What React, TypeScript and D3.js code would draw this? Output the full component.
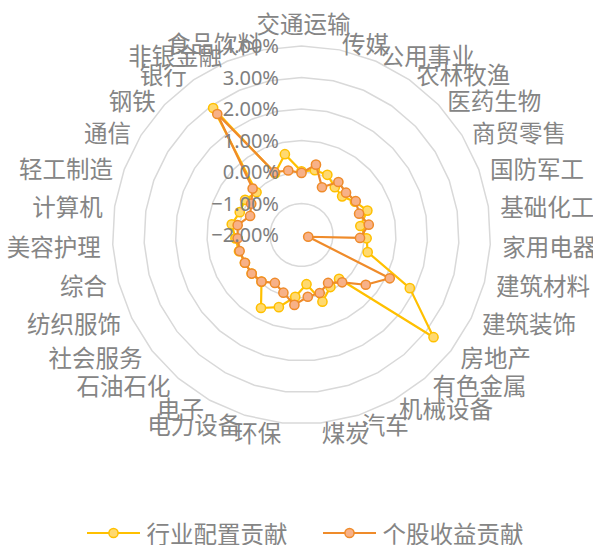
import React from 'react';
import * as d3 from 'd3';

const categories = ['交通运输','传媒','公用事业','农林牧渔','医药生物','商贸零售','国防军工','基础化工','家用电器','建筑材料','建筑装饰','房地产','有色金属','机械设备','汽车','煤炭','环保','电力设备','电子','石油石化','社会服务','纺织服饰','综合','美容护理','计算机','轻工制造','通信','钢铁','银行','非银金融','食品饮料'];
// values in percent
const industryAllocation = [0.02,0.10,0.08,-0.15,-0.22,0.0,0.23,-0.11,0.07,0.17,1.83,3.30,-0.17,-0.11,0.22,-0.43,-0.03,0.40,0.65,-0.05,0.0,0.0,0.05,0.10,0.24,0.09,0.11,-0.03,2.91,0.13,0.62];
const stockSelection = [-0.03,0.28,-0.35,0.05,-0.05,0.03,-0.05,0.16,-0.14,-1.78,1.12,0.58,-0.02,-0.26,-0.07,-0.03,0.23,-0.08,-0.26,-0.05,0.0,0.0,0.03,0.03,0.05,-0.26,-0.12,0.14,2.68,0.17,0.09];
const tickValues = [-2,-1,0,1,2,3,4];
const seriesNames = ['行业配置贡献','个股收益贡献'];

const W = 593, H = 545;
const cx = 301.5, cy = 235, R = 189;
const CJK = '"Noto Sans CJK SC", "Noto Sans", sans-serif';
const textColor = '#7f7f7f';

export default function App() {
  const n = categories.length;
  const angle = d3.scaleLinear().domain([0, n]).range([0, 2 * Math.PI]);
  const r = d3.scaleLinear().domain([tickValues[0], tickValues[tickValues.length - 1]]).range([0, R]);
  const fmt = d3.format('.2f');

  const ringPath = (t: number) =>
    d3.lineRadial<number>()
      .angle((_, i) => angle(i))
      .radius(() => r(t))
      .curve(d3.curveLinearClosed)(categories.map(() => t)) as string;

  const seriesPath = (vals: number[]) =>
    d3.lineRadial<number>()
      .angle((_, i) => angle(i))
      .radius(d => r(d))
      .curve(d3.curveLinearClosed)(vals) as string;

  const series = [
    { name: seriesNames[0], values: industryAllocation, stroke: '#FFC000', fill: '#FFD970' },
    { name: seriesNames[1], values: stockSelection, stroke: '#EF8B2A', fill: '#F7B188' },
  ];

  const L = 201;
  const catLabels = categories.map((c, i) => {
    const a = angle(i);
    const s = Math.sin(a), co = Math.cos(a);
    const px = cx + L * s;
    const py = cy - L * co;
    if (Math.abs(s) < 0.05) {
      return { c, x: px + 2, y: py - 11 * co, anchor: 'middle' };
    }
    return { c, x: px, y: py + 1 + 4 * co, anchor: s > 0 ? 'start' : 'end' };
  });

  return (
    <svg width={W} height={H} style={{ position: 'absolute', left: 0, top: 0, background: '#fff' }}>
      <g transform={`translate(${cx},${cy})`}>
        {tickValues.slice(1).map(t => (
          <path key={t} d={ringPath(t)} fill="none" stroke="#d9d9d9" strokeWidth={1.5} />
        ))}
        {series.map(s => (
          <g key={s.name}>
            <path d={seriesPath(s.values)} fill="none" stroke={s.stroke} strokeWidth={2.2} strokeLinejoin="round" />
            {s.values.map((v, i) => {
              const [x, y] = d3.pointRadial(angle(i), r(v));
              return <circle key={i} cx={x} cy={y} r={4.6} fill={s.fill} stroke={s.stroke} strokeWidth={1.5} />;
            })}
          </g>
        ))}
      </g>
      {tickValues.map(t => (
        <text key={t} x={cx - 22.5} y={cy - r(t) + 7.2} textAnchor="end" fontFamily='"Noto Sans", sans-serif' fontSize={20} fill={textColor}>
          {fmt(t) + '%'}
        </text>
      ))}
      {catLabels.map(l => (
        <text key={l.c} x={l.x} y={l.y} textAnchor={l.anchor as any} dominantBaseline="central" fontFamily={CJK} fontSize={23.5} fill="#858585">
          {l.c}
        </text>
      ))}
      {series.map((s, i) => {
        const x0 = i === 0 ? 87 : 323;
        const y = 533;
        return (
          <g key={s.name}>
            <line x1={x0} x2={x0 + 53} y1={y} y2={y} stroke={s.stroke} strokeWidth={2.2} />
            <circle cx={x0 + 26.5} cy={y} r={4.6} fill={s.fill} stroke={s.stroke} strokeWidth={1.5} />
            <text x={x0 + 59.5} y={y} dominantBaseline="central" fontFamily={CJK} fontSize={23.5} fill="#858585">{s.name}</text>
          </g>
        );
      })}
    </svg>
  );
}
